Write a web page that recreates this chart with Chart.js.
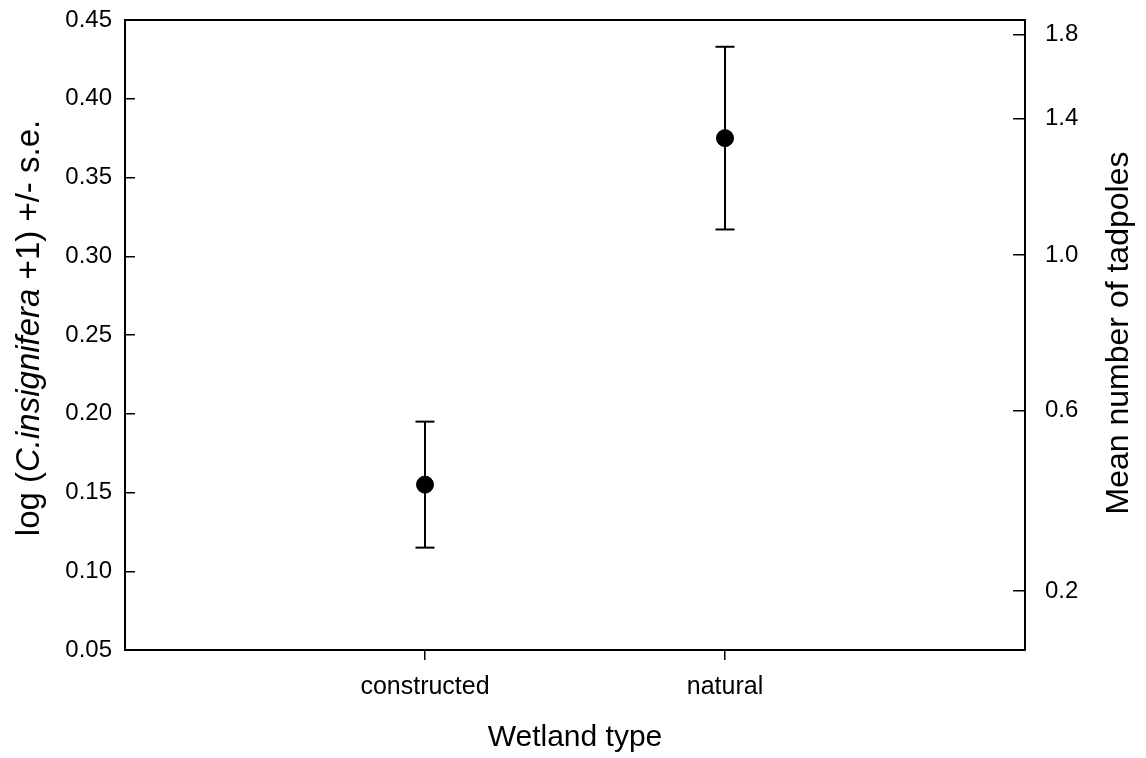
<!DOCTYPE html>
<html>
<head>
<meta charset="utf-8">
<script src="https://cdn.jsdelivr.net/npm/chart.js@4/dist/chart.umd.min.js"></script>
<style>
  body { margin: 0; background: #fff; }
  #wrap { width: 1146px; height: 758px; }
</style>
</head>
<body>
<div id="wrap"><canvas id="wetland"></canvas></div>
<script>
// values
var categories = ['constructed', 'natural'];
var means = [0.155, 0.375];
var lowerSE = [0.115, 0.317];
var upperSE = [0.195, 0.433];

var leftTicks = [0.05, 0.10, 0.15, 0.20, 0.25, 0.30, 0.35, 0.40, 0.45];
// right axis labels and where they sit on the left (log) axis
var rightTickLabels = ['0.2', '0.6', '1.0', '1.4', '1.8'];
var rightTickPos = [0.0875, 0.2019, 0.3008, 0.3876, 0.4407];

var FONT = 'Arial, "Liberation Sans", sans-serif';

var datasets = [];
datasets.push({
  label: 'mean',
  data: means.map(function(m, i) { return {x: i + 1, y: m}; }),
  showLine: false,
  pointRadius: 8.5,
  pointBackgroundColor: '#000',
  pointBorderColor: '#000',
  pointBorderWidth: 1,
  order: 0
});
categories.forEach(function(c, i) {
  datasets.push({
    label: c + ' s.e.',
    data: [{x: i + 1, y: lowerSE[i]}, {x: i + 1, y: upperSE[i]}],
    showLine: true,
    borderColor: '#000',
    borderWidth: 2,
    pointStyle: 'line',
    pointRadius: 9.5,
    pointBorderColor: '#000',
    pointBorderWidth: 2,
    order: 1
  });
});

// axis titles drawn by hand: left one has an italic part, right one reads upward
var titlePlugin = {
  id: 'sideTitles',
  afterDraw: function(chart) {
    var ctx = chart.ctx;
    var size = 33;
    var parts = [
      {t: 'log (', f: size + 'px ' + FONT},
      {t: 'C.insignifera', f: 'italic ' + size + 'px ' + FONT},
      {t: ' +1) +/- s.e.', f: size + 'px ' + FONT}
    ];
    ctx.save();
    ctx.fillStyle = '#000';
    ctx.textBaseline = 'middle';
    ctx.translate(30, 328);
    ctx.rotate(-Math.PI / 2);
    var total = 0;
    parts.forEach(function(p) { ctx.font = p.f; p.w = ctx.measureText(p.t).width; total += p.w; });
    var x = -total / 2;
    ctx.textAlign = 'left';
    parts.forEach(function(p) { ctx.font = p.f; ctx.fillText(p.t, x, 0); x += p.w; });
    ctx.restore();

    ctx.save();
    ctx.fillStyle = '#000';
    ctx.font = '32px ' + FONT;
    ctx.textAlign = 'center';
    ctx.textBaseline = 'middle';
    ctx.translate(1119, 333);
    ctx.rotate(-Math.PI / 2);
    ctx.fillText('Mean number of tadpoles', 0, 0);
    ctx.restore();
  }
};

new Chart(document.getElementById('wetland'), {
  type: 'scatter',
  data: { datasets: datasets },
  plugins: [titlePlugin],
  options: {
    responsive: true,
    maintainAspectRatio: false,
    animation: false,
    layout: { padding: 0 },
    plugins: {
      legend: { display: false },
      tooltip: { enabled: false }
    },
    scales: {
      x: {
        type: 'linear',
        position: 'bottom',
        min: 0,
        max: 3,
        afterBuildTicks: function(s) {
          s.ticks = categories.map(function(c, i) { return {value: i + 1}; });
        },
        afterFit: function(s) { s.height = 108; s.paddingLeft = 0; s.paddingRight = 0; },
        ticks: {
          color: '#000',
          font: { family: FONT, size: 25 },
          padding: 12,
          callback: function(v) { return categories[v - 1] || ''; }
        },
        grid: { drawOnChartArea: false, tickLength: 10, color: '#000', lineWidth: 1.5 },
        border: { color: '#000', width: 2 },
        title: {
          display: true,
          text: 'Wetland type',
          color: '#000',
          font: { family: FONT, size: 30 },
          padding: { top: 0, bottom: 2 }
        }
      },
      xTop: {
        type: 'linear',
        position: 'top',
        min: 0,
        max: 3,
        afterFit: function(s) { s.height = 20; s.paddingLeft = 0; s.paddingRight = 0; },
        ticks: { display: false },
        grid: { display: false },
        border: { color: '#000', width: 2 }
      },
      y: {
        type: 'linear',
        position: 'left',
        min: 0.05,
        max: 0.45,
        afterBuildTicks: function(s) {
          s.ticks = leftTicks.map(function(v) { return {value: v}; });
        },
        afterFit: function(s) { s.width = 125; s.paddingTop = 0; s.paddingBottom = 0; },
        ticks: {
          color: '#000',
          font: { family: FONT, size: 24 },
          padding: 23,
          callback: function(v) { return v.toFixed(2); }
        },
        grid: { drawOnChartArea: false, tickLength: -10, color: '#000', lineWidth: 1.5 },
        border: { color: '#000', width: 2 }
      },
      y2: {
        type: 'linear',
        position: 'right',
        min: 0.05,
        max: 0.45,
        afterBuildTicks: function(s) {
          s.ticks = rightTickPos.map(function(v) { return {value: v}; });
        },
        afterFit: function(s) { s.width = 121; s.paddingTop = 0; s.paddingBottom = 0; },
        ticks: {
          color: '#000',
          font: { family: FONT, size: 24 },
          padding: 32,
          callback: function(v, i) { return rightTickLabels[i]; }
        },
        grid: { drawOnChartArea: false, tickLength: -12, color: '#000', lineWidth: 1.5 },
        border: { color: '#000', width: 2 }
      }
    }
  }
});
</script>
</body>
</html>
